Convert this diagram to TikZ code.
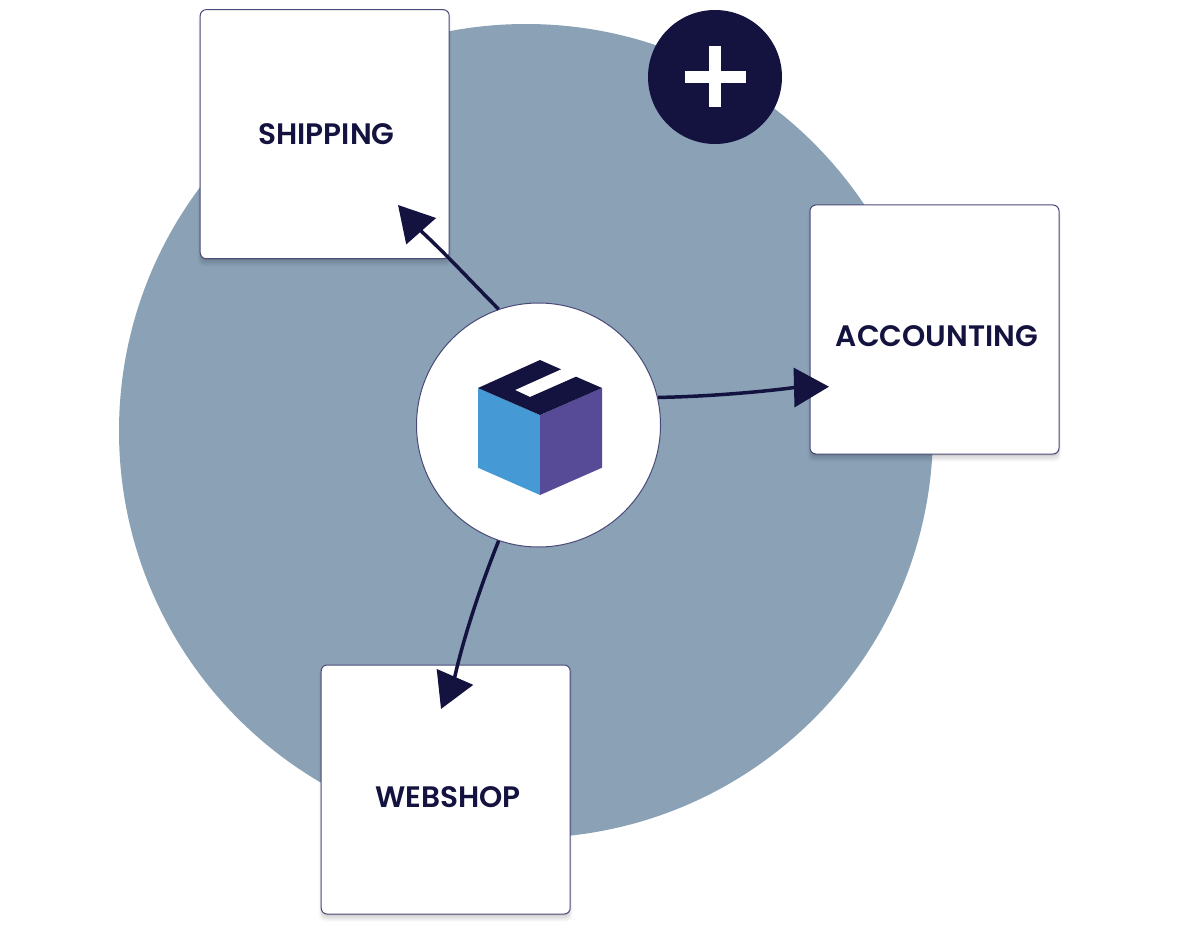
\documentclass[tikz,border=0pt]{standalone}
\usepackage{fontspec}
\setmainfont{Poppins}[BoldFont={Poppins SemiBold}]
\usetikzlibrary{arrows.meta,shadows}
\definecolor{navy}{HTML}{141340}
\definecolor{disc}{HTML}{8AA1B6}
\definecolor{cubeblue}{HTML}{4599D5}
\definecolor{cubepurple}{HTML}{574A97}
\definecolor{edge}{HTML}{4A4A78}
\tikzset{
  x=1pt,y=-1pt,
  softshadow/.style={
    general shadow={shadow yshift=-5pt,shadow scale=1.02,fill=black,fill opacity=.025},
    general shadow={shadow yshift=-5pt,shadow scale=1.01,fill=black,fill opacity=.04},
    general shadow={shadow yshift=-4pt,shadow scale=1.004,fill=black,fill opacity=.06},
    general shadow={shadow yshift=-2pt,shadow scale=1.0,fill=black,fill opacity=.08}},
  card/.style={draw=edge,line width=1pt,fill=white,rounded corners=6pt,minimum width=249pt,minimum height=249pt,inner sep=0pt,softshadow},
  cardtext/.style={text=navy,inner sep=0pt,font=\fontsize{29.6}{33}\selectfont\bfseries},
  hubnode/.style={circle,draw=edge,line width=1pt,fill=white,minimum size=244pt,inner sep=0pt},
  flow/.style={draw=navy,line width=3.5pt,-{Triangle[length=35pt,width=39pt]}}
}
\begin{document}
\begin{tikzpicture}
\useasboundingbox (0,0) rectangle (1200,925);
\node[circle,fill=disc,minimum size=814pt,inner sep=0pt] (disc) at (526,431) {};
\node[card] (shipping) at (324.7,134.2) {};
\node[card] (accounting) at (934.5,329.5) {};
\node[card] (webshop) at (445.7,789.5) {};
\node[cardtext] (shippinglabel) at ([shift={(1.8,0)}]shipping.center) {SHIPPING};
\node[cardtext] (accountinglabel) at ([shift={(2.5,6.5)}]accounting.center) {ACCOUNTING};
\node[cardtext] (webshoplabel) at ([shift={(2.5,8)}]webshop.center) {WEBSHOP};
\node[hubnode] (hub) at (538.5,425) {};
\node[circle,fill=navy,minimum size=134pt,inner sep=0pt] (plus) at (715,77) {};
\fill[white] (plus.center) ++(-30,-6.2) rectangle ++(61,12.2);
\fill[white] (plus.center) ++(-6.2,-31) rectangle ++(12.6,61);
% cube
\fill[cubeblue] (478,388) -- (540,415) -- (540,495) -- (478,467.7) -- cycle;
\fill[cubepurple] (602,388) -- (540,415) -- (540,495) -- (602,467.7) -- cycle;
\fill[navy] (540,360) -- (561,369.3) -- (515,390) -- (530,397) -- (576,376.7) -- (602,388) -- (540,415) -- (478,388) -- cycle;
% connectors
\coordinate (shipbase) at (421,231);
\coordinate (shiptip) at (398,205);
\coordinate (accbase) at (794.5,387.5);
\coordinate (acctip) at (829,386.7);
\coordinate (webbase) at (454.5,678);
\coordinate (webtip) at (441,709);
\draw[flow] (hub.109) .. controls (474,284.5) and (446,254) .. (shipbase) -- (shiptip);
\draw[flow] (hub.13) .. controls (710,396.5) and (765,391.5) .. (accbase) -- (acctip);
\draw[flow] (hub.-109) .. controls (479,590) and (463,640) .. (webbase) -- (webtip);
\end{tikzpicture}
\end{document}
